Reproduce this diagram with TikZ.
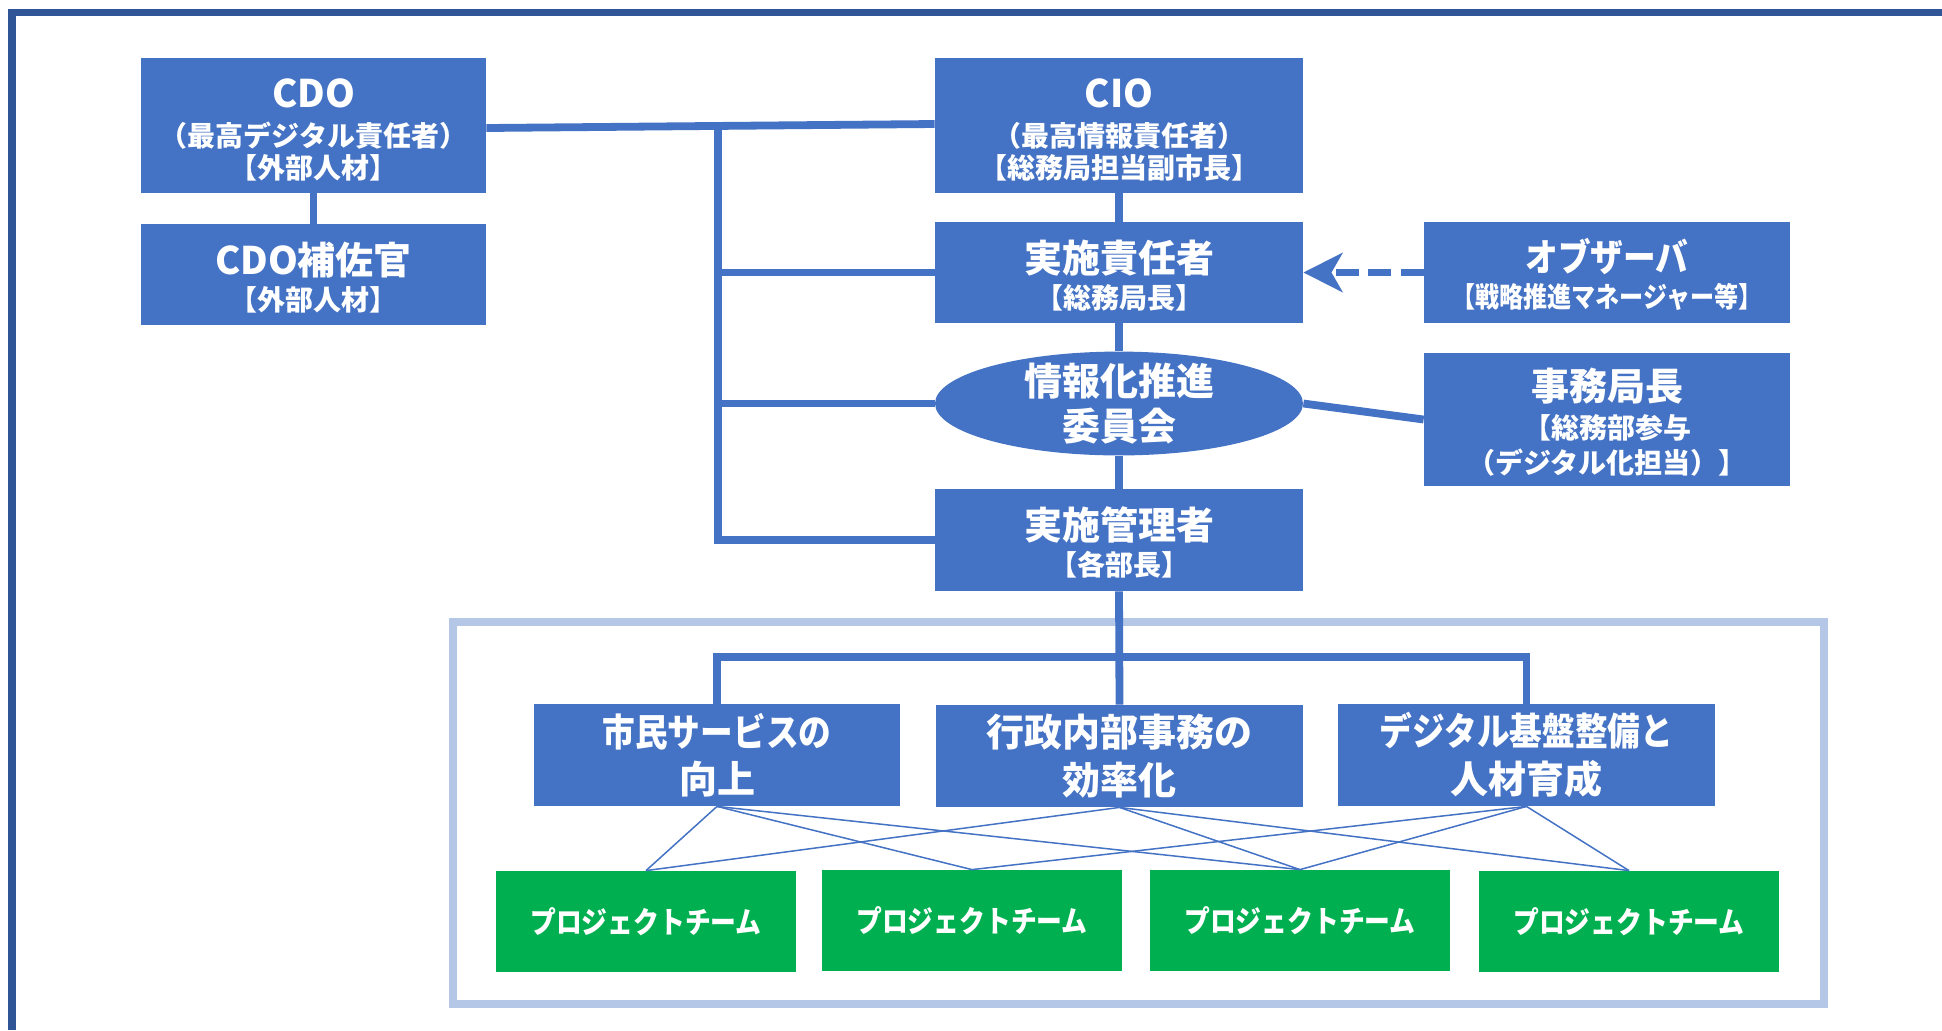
\documentclass[tikz,border=0pt]{standalone}
\usepackage{fontspec}
\setmainfont{Noto Sans CJK JP}
\newfontfamily\jpnarrow{Noto Sans CJK JP}[FakeStretch=0.86]
\usetikzlibrary{shapes.geometric,arrows.meta,calc}
\definecolor{boxblue}{HTML}{4472C4}
\definecolor{framedark}{HTML}{2F5597}
\definecolor{grplight}{HTML}{B4C7E7}
\definecolor{ptgreen}{HTML}{00B050}
\newcommand{\mainsz}{\fontsize{19}{16}\selectfont}
\newcommand{\subsz}{\fontsize{14}{16}\selectfont}
\newcommand{\ptsz}{\fontsize{15}{16}\selectfont}
\newcommand{\topstrut}{\rule{0pt}{19pt}}
\begin{document}
\begin{tikzpicture}[x=0.5pt,y=-0.5pt,
  orgbox/.style={rectangle, fill=boxblue, text=white, inner sep=0pt, align=center, font=\bfseries\subsz},
  ptbox/.style={rectangle, fill=ptgreen, text=white, inner sep=0pt, minimum width=150pt, minimum height=50.5pt, font=\jpnarrow\bfseries\ptsz},
  thickcon/.style={draw=boxblue, line width=3.9pt},
  thincon/.style={draw=boxblue, line width=0.75pt},
]
\useasboundingbox (0,0) rectangle (1942,1030);
\fill[white] (0,0) rectangle (1942,1030);

% outer frame (partly outside the picture)
\draw[framedark, line width=3.85pt] (12,1030) -- (12,12.5) -- (1942,12.5);

% group container
\draw[grplight, line width=3.75pt] (453,622) rectangle (1824,1004);

% upper organisation
\node[orgbox, minimum width=172.5pt, minimum height=67.5pt] (cdo) at (313.5,125.5)
  {\topstrut{\mainsz CDO}\\[3.3pt]（最高デジタル責任者）\\[0.25pt]【外部人材】};
\node[orgbox, minimum width=172.5pt, minimum height=50.5pt] (cdoa) at (313.5,274.5)
  {\topstrut{\mainsz CDO補佐官}\\[1.85pt]【外部人材】};
\node[orgbox, minimum width=184pt, minimum height=67.5pt] (cio) at (1119,125.5)
  {\topstrut{\mainsz CIO}\\[3.3pt]（最高情報責任者）\\[0.25pt]【総務局担当副市長】};
\node[orgbox, minimum width=184pt, minimum height=50.5pt] (sekinin) at (1119,272.5)
  {\topstrut{\mainsz 実施責任者}\\[1.85pt]【総務局長】};
\node[orgbox, minimum width=183pt, minimum height=50.5pt] (obs) at (1607,272.5)
  {\topstrut{\mainsz\jpnarrow オブザーバ}\\[2pt]{\jpnarrow\fontsize{14}{16}\selectfont【戦略推進マネージャー等】}};
\node[orgbox, ellipse, inner sep=-2pt, minimum width=184pt, minimum height=51.5pt, font=\bfseries\mainsz] (iinkai) at (1119,403.5)
  {情報化推進\\[3.5pt]委員会};
\node[orgbox, minimum width=183pt, minimum height=66.5pt] (jimu) at (1607,419.5)
  {\topstrut{\mainsz 事務局長}\\[2.85pt]【総務部参与\\[1.5pt]（デジタル化担当）】};
\node[orgbox, minimum width=184pt, minimum height=51pt] (kanri) at (1119,540)
  {\topstrut{\mainsz 実施管理者}\\[2pt]【各部長】};

% policy boxes
\node[orgbox, minimum width=183pt, minimum height=51pt, font=\bfseries\mainsz] (ba) at (717,755)
  {{\jpnarrow 市民サービスの}\\[4.5pt]向上};
\node[orgbox, minimum width=183.5pt, minimum height=51pt, font=\bfseries\mainsz] (bb) at (1119.5,756)
  {行政内部事務の\\[4.5pt]効率化};
\node[orgbox, minimum width=188.5pt, minimum height=51pt, font=\bfseries\mainsz] (bc) at (1526.5,755)
  {{\jpnarrow デジタル基盤整備と}\\[4.5pt]人材育成};

% project teams
\node[ptbox] (g1) at (646,921.5) {プロジェクトチーム};
\node[ptbox] (g2) at (972,920.5) {プロジェクトチーム};
\node[ptbox] (g3) at (1300,920.5) {プロジェクトチーム};
\node[ptbox] (g4) at (1629,921.5) {プロジェクトチーム};

% thick connectors
\draw[thickcon] (cdo.south) -- (cdoa.north);
\draw[thickcon] ($(cdo.east)+(0,2.5)$) -- ($(cio.west)+(0,-1.5)$);
\coordinate (bustop) at (718,126);
\draw[thickcon] (bustop) |- (kanri.west);
\draw[thickcon] (bustop |- sekinin.west) -- (sekinin.west);
\draw[thickcon] (bustop |- iinkai.west) -- (iinkai.west);
\draw[thickcon] (cio.south) -- (sekinin.north);
\draw[thickcon] (sekinin.south) -- (iinkai.north);
\draw[thickcon] (iinkai.south) -- (kanri.north);
\draw[thickcon] (iinkai.east) -- (jimu.west);
\draw[thickcon, dash pattern=on 11.5pt off 4.75pt,
  -{Stealth[length=19.5pt,width=19.5pt,inset=5.5pt]}] (obs.west) -- (sekinin.east);

\coordinate (tbus) at (1119,657);
\draw[thickcon] (kanri.south) -- (bb.north);
\draw[thickcon] (ba.north) -- (ba.north |- tbus) -- (bc.north |- tbus) -- (bc.north);

% thin links to project teams
\draw[thincon] (ba.south) -- (g1.north);
\draw[thincon] (ba.south) -- (g2.north);
\draw[thincon] (ba.south) -- (g3.north);
\draw[thincon] (bb.south) -- (g1.north);
\draw[thincon] (bb.south) -- (g3.north);
\draw[thincon] (bb.south) -- (g4.north);
\draw[thincon] (bc.south) -- (g2.north);
\draw[thincon] (bc.south) -- (g3.north);
\draw[thincon] (bc.south) -- (g4.north);
\end{tikzpicture}
\end{document}
